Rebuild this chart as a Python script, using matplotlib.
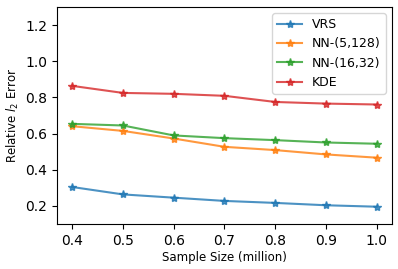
import numpy as np
import matplotlib.pyplot as plt

sizes = [0.4, 0.5, 0.6, 0.7, 0.8, 0.9, 1.0]
vrs = [0.305, 0.264, 0.246, 0.228, 0.217, 0.204, 0.196]
nn_5_128 = [0.641, 0.615, 0.573, 0.527, 0.509, 0.485, 0.467]
nn_16_32 = [0.654, 0.645, 0.590, 0.575, 0.564, 0.551, 0.544]
kde = [0.864, 0.825, 0.820, 0.809, 0.775, 0.766, 0.761]

fig, ax = plt.subplots(figsize=(3.98, 2.69), dpi=100)
ax.plot(sizes, vrs, '*-', label='VRS', alpha=0.8, markersize=6)
ax.plot(sizes, nn_5_128, '*-', label='NN-(5,128)', alpha=0.8, markersize=6)
ax.plot(sizes, nn_16_32, '*-', label='NN-(16,32)', alpha=0.8, markersize=6)
ax.plot(sizes, kde, '*-', label='KDE', alpha=0.8, markersize=6)

ax.set_ylim(0.1, 1.3)
ax.set_yticks([0.2, 0.4, 0.6, 0.8, 1.0, 1.2])
ax.tick_params(labelsize=10)
ax.set_xlabel('Sample Size (million)', fontsize=8.5, labelpad=2)
ax.set_ylabel('Relative $l_2$ Error', fontsize=8.5, labelpad=3)
ax.legend(loc='upper right', fontsize=9)

plt.subplots_adjust(left=0.143, right=0.985, top=0.974, bottom=0.167)
plt.savefig('out.png')
